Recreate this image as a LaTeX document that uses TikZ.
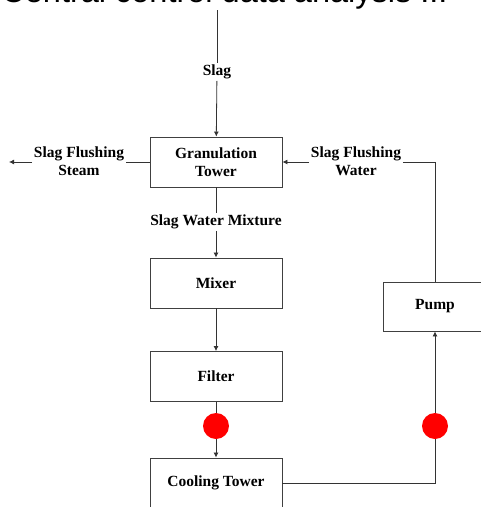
\documentclass[tikz,border=0pt]{standalone}
\usepackage{fontspec}
\setmainfont{Liberation Serif}
\newfontfamily\titlefont{Liberation Sans}
\usetikzlibrary{arrows.meta}

\begin{document}
\begin{tikzpicture}[x=1pt, y=-1pt, line width=0.8pt, draw=black!80,
    >={Latex[length=5pt,width=5pt]},
    unit/.style={rectangle, draw=black!75, line width=0.9pt, align=center, minimum width=132pt, minimum height=50pt, font=\fontsize{15.5}{18}\selectfont\bfseries},
    flow/.style={inner sep=1.5pt, align=center, font=\fontsize{15.5}{18}\selectfont\bfseries},
    valve/.style={circle, fill=red, draw=none, minimum size=26pt, inner sep=0pt}]
    \useasboundingbox (0,0) rectangle (481,507);
    \clip (0,0) rectangle (481,507);

    \node[anchor=base west, inner sep=0pt, font=\titlefont\fontsize{32.5}{36}\selectfont](title) at (1, 2.5){Central control data analysis ...};

    \node[unit](gran) at (216, 162){Granulation\\Tower};
    \node[unit](mixer) at (216, 283){Mixer};
    \node[unit](filter) at (216, 376.5){Filter};
    \node[unit](cooling) at (216, 483){Cooling Tower};
    \node[unit, minimum width=104pt, minimum height=49pt](pump) at (435, 306.5){Pump};

    \node[valve](valve1) at (216, 426){};
    \node[valve](valve2) at (435, 426){};

    \node[flow](slag) at (217, 72){Slag};
    \node[flow](steam) at (79, 161){Slag Flushing\\Steam};
    \node[flow](water) at (356, 161){Slag Flushing\\Water};
    \node[flow](mixture) at (216, 222){Slag Water Mixture};

    \coordinate (feed) at (217, 10);
    \coordinate (vent) at (9, 162);

    \draw (feed) -- (slag);
    \draw[->] (slag) -- (gran);
    \draw (gran.west) -- (steam.east |- gran.west);
    \draw[->] (steam.west |- vent) -- (vent);
    \draw[->] (water.west |- gran.east) -- (gran.east);
    \draw (water.east |- gran.east) -| (pump.north);
    \draw (gran) -- (mixture);
    \draw[->] (mixture) -- (mixer);
    \draw[->] (mixer) -- (filter);
    \draw (filter) -- (valve1);
    \draw[->] (valve1) -- (cooling);
    \draw (cooling.east) -| (valve2);
    \draw[->] (valve2) -- (pump);
\end{tikzpicture}
\end{document}
